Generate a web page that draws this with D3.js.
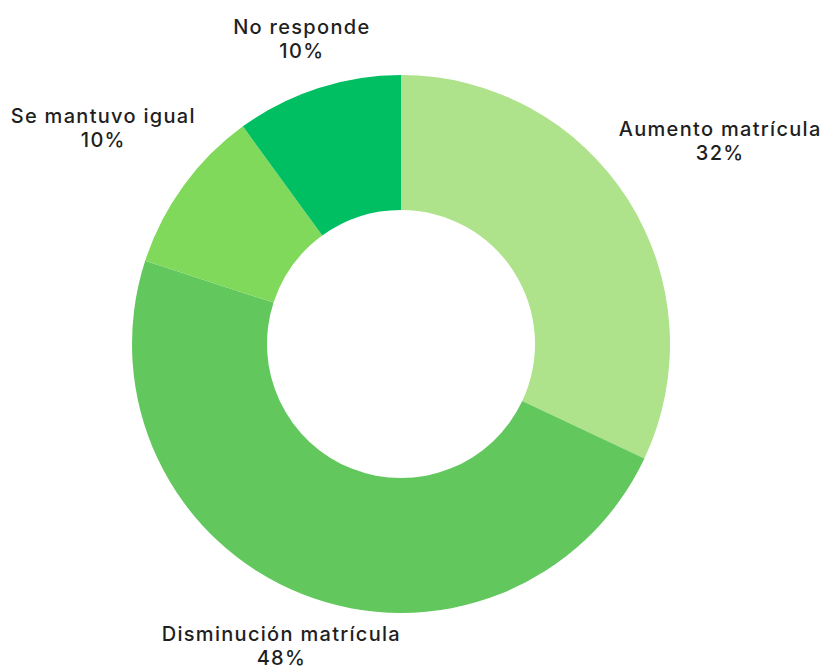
<!DOCTYPE html>
<html>
<head>
<meta charset="utf-8">
<script src="https://cdn.jsdelivr.net/npm/d3@7"></script>
<style>
  html, body { margin: 0; padding: 0; background: #ffffff; }
  svg { display: block; }
  text { font-family: "Inter", "Noto Sans", sans-serif; font-weight: 500; fill: #1f1f1f; }
</style>
</head>
<body>
<svg id="chart" width="827" height="671"></svg>
<script>
const categories = ["Aumento matrícula", "Disminución matrícula", "Se mantuvo igual", "No responde"];
const values = [32, 48, 10, 10];
const valueLabels = ["32%", "48%", "10%", "10%"];
const colors = ["#aee28b", "#62c85e", "#80d95a", "#00bf63"];

const W = 827, H = 671;
const cx = 401, cy = 344;
const outerR = 269, innerR = 134;
const labelRadius = [378, 325, 368, 321];

const svg = d3.select("#chart");
const g = svg.append("g").attr("transform", `translate(${cx},${cy})`);

const data = categories.map((c, i) => ({ name: c, value: values[i], label: valueLabels[i], color: colors[i], idx: i }));

const pie = d3.pie().value(d => d.value).sort(null).startAngle(0).endAngle(2 * Math.PI);
const arcs = pie(data);
const arc = d3.arc().innerRadius(innerR).outerRadius(outerR);

g.selectAll("path.slice")
  .data(arcs)
  .join("path")
  .attr("class", "slice")
  .attr("d", arc)
  .attr("fill", d => d.data.color);

const labels = g.selectAll("text.lbl")
  .data(arcs)
  .join("text")
  .attr("class", "lbl")
  .attr("text-anchor", "middle")
  .attr("font-size", 20)
  .attr("letter-spacing", "1.3px")
  .attr("transform", d => {
    const a = (d.startAngle + d.endAngle) / 2;
    const r = labelRadius[d.data.idx];
    return `translate(${r * Math.sin(a)},${-r * Math.cos(a)})`;
  });

labels.append("tspan").attr("x", 0).attr("y", -5).text(d => d.data.name);
labels.append("tspan").attr("x", 0).attr("y", 19).text(d => d.data.label);
</script>
</body>
</html>
